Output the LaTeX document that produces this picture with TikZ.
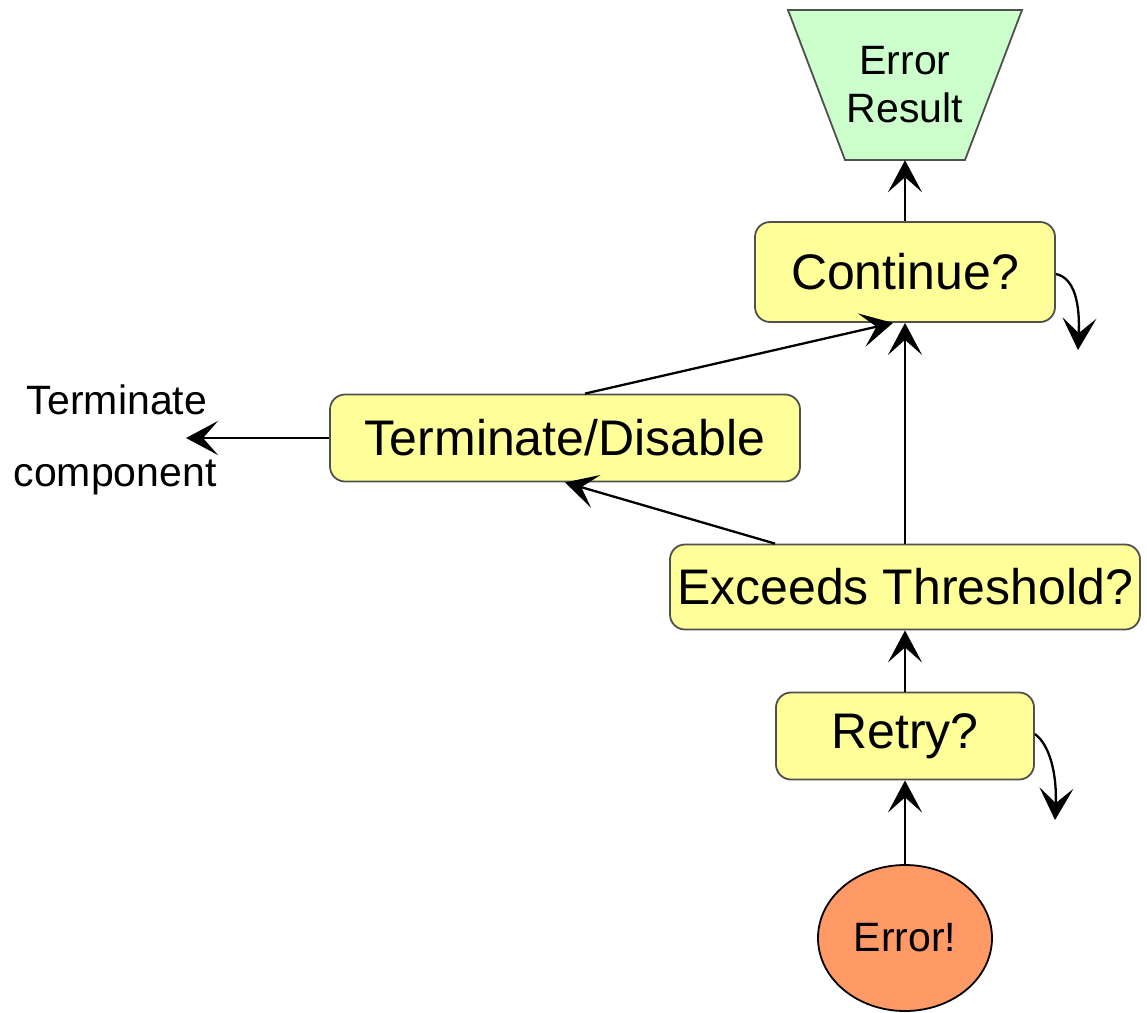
\documentclass[tikz,border=0pt]{standalone}
\usepackage{fontspec}
\setmainfont{Liberation Sans}
\usetikzlibrary{arrows.meta,shapes.geometric}
\definecolor{boxyellow}{HTML}{FFFF99}
\definecolor{resgreen}{HTML}{CCFFCC}
\definecolor{errorange}{HTML}{FF9966}
\definecolor{edgegray}{HTML}{505050}
\begin{document}
\begin{tikzpicture}[x=1pt,y=-1pt,
  every node/.style={font=\fontsize{50}{55}\selectfont, inner sep=0pt},
  stepbox/.style={draw=edgegray, line width=1.8pt, fill=boxyellow,
    rounded corners=15pt, align=center},
  flow/.style={line width=2.3pt, -{Stealth[length=32pt,width=34pt,inset=15pt]}},
  note/.style={font=\fontsize{41}{45}\selectfont}]
\useasboundingbox (0,0) rectangle (1147,1012);

% Result trapezium at the top
\filldraw[fill=resgreen, draw=edgegray, line width=1.8pt]
  (788,10) -- (1022,10) -- (965,160) -- (845,160) -- cycle;
\node[note, align=center, minimum width=120pt, minimum height=150pt,
  font=\fontsize{41}{48}\selectfont] (res) at (905,85) {Error\\Result};

% Decision / action boxes
\node[stepbox, minimum width=300pt, minimum height=100pt] (cont) at (905,272) {Continue?};
\node[stepbox, minimum width=470pt, minimum height=87pt] (term) at (565,438) {Terminate/Disable};
\node[stepbox, minimum width=470pt, minimum height=85pt] (exc) at (905,587) {Exceeds Threshold?};
\node[stepbox, minimum width=258pt, minimum height=87pt] (retry) at (905,736) {Retry?};

% Starting event
\node[ellipse, draw=black, line width=1.8pt, fill=errorange,
  minimum width=174pt, minimum height=146pt, note] (err) at (905,938) {Error!};

% Outside labels
\node[note] (tlab1) at (117,400) {Terminate};
\node[note] (tlab2) at (115,477) {component};
\coordinate (tout) at (186,438);
\coordinate (contout) at (1078,350);
\coordinate (retryout) at (1055,820);

% Connectors
\draw[flow] (err.north) -- (retry.south);
\draw[flow] (retry.north) -- (exc.south);
\draw[flow] (exc.north) -- (cont.south);
\draw[flow] ([xshift=-130pt]exc.north) -- (term.south);
\draw[flow] ([xshift=20pt]term.north) -- ([xshift=-12pt]cont.south);
\draw[flow] (cont.north) -- (res.south);
\draw[flow] (term.west) -- (tout);
\draw[flow] ([yshift=-2pt]cont.east) .. controls (1075,278) and (1080,305) .. (contout);
\draw[flow] ([yshift=2pt]retry.east) .. controls (1050,745) and (1057,775) .. (retryout);
\end{tikzpicture}
\end{document}
